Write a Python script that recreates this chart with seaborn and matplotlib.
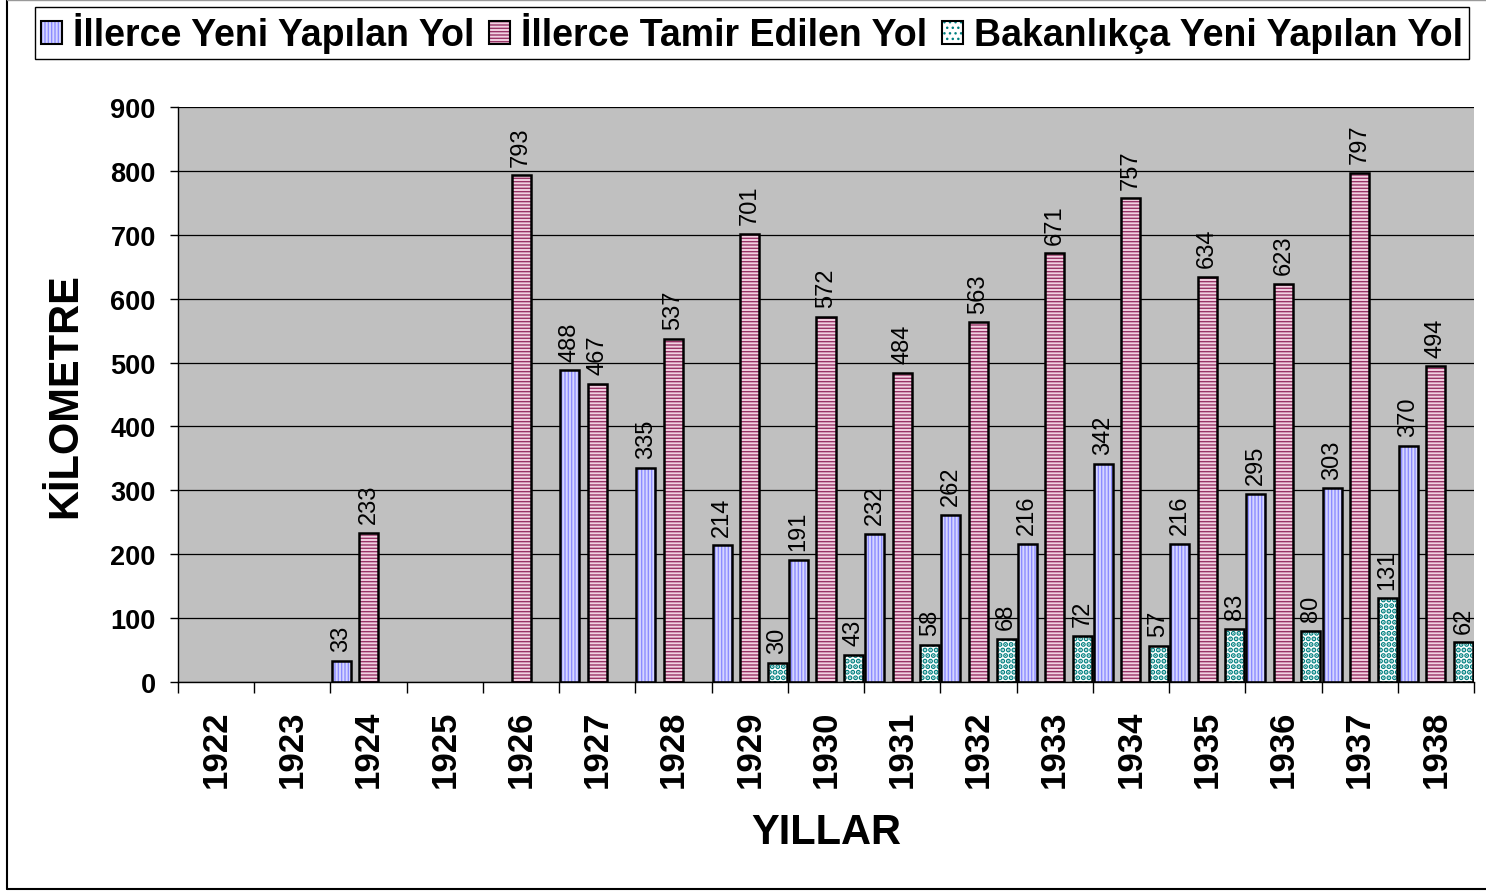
import numpy as np
import pandas as pd
import matplotlib
matplotlib.use('Agg')
import matplotlib.pyplot as plt
import seaborn as sns
from matplotlib.patches import Rectangle, Patch
from matplotlib.lines import Line2D

years = ['1922', '1923', '1924', '1925', '1926', '1927', '1928', '1929', '1930',
         '1931', '1932', '1933', '1934', '1935', '1936', '1937', '1938']
illerce_yeni = [0, 0, 33, 0, 0, 488, 335, 214, 191, 232, 262, 216, 342, 216, 295, 303, 370]
illerce_tamir = [0, 0, 233, 0, 793, 467, 537, 701, 572, 484, 563, 671, 757, 634, 623, 797, 494]
bakanlik_yeni = [0, 0, 0, 0, 0, 0, 0, 30, 43, 58, 68, 72, 57, 83, 80, 131, 62]
series_names = ['İllerce Yeni Yapılan Yol', 'İllerce Tamir Edilen Yol', 'Bakanlıkça Yeni Yapılan Yol']
y_ticks = [0, 100, 200, 300, 400, 500, 600, 700, 800, 900]

face_colors = ['#D6D6FF', '#F2D2E2', '#FFFFFF']
hatch_colors = ['#8C8CFF', '#993366', '#008080']
hatches = ['|||||', '-----', '...']
hatch_lws = [1.0, 1.0, 2.6]

sns.set_style('white')
plt.rcParams['font.family'] = ['Liberation Sans', 'DejaVu Sans']
plt.rcParams['hatch.linewidth'] = 1.0
for k in ['text.color', 'axes.labelcolor', 'xtick.color', 'ytick.color']:
    plt.rcParams[k] = 'black'

df = pd.DataFrame({
    'Yıl': years * 3,
    'Değer': illerce_yeni + illerce_tamir + bakanlik_yeni,
    'Seri': np.repeat(series_names, len(years)),
})

W, H = 1486, 895
fig = plt.figure(figsize=(W / 100, H / 100), dpi=100)
ax = fig.add_axes([178 / W, 1 - 683 / H, 1296 / W, 575 / H])

sns.barplot(data=df, x='Yıl', y='Değer', hue='Seri', hue_order=series_names, order=years,
            palette=face_colors, saturation=1, width=1.085, gap=0.31, errorbar=None,
            legend=False, ax=ax)


def style_hatch(p, h, hc, hlw):
    p.set_hatch(h)
    p.set_edgecolor(hc)
    p.set_linewidth(0)
    if hasattr(p, 'set_hatch_linewidth'):
        p.set_hatch_linewidth(hlw)


for cont, hc, h, hlw in zip(ax.containers, hatch_colors, hatches, hatch_lws):
    labels = []
    for bar in cont:
        hgt = bar.get_height()
        if not hgt:
            bar.set_visible(False)
            labels.append('')
            continue
        style_hatch(bar, h, hc, hlw)
        ax.add_patch(Rectangle(bar.get_xy(), bar.get_width(), hgt, fill=False,
                               edgecolor='black', lw=1.8, zorder=bar.get_zorder() + 0.1))
        labels.append(f'{hgt:.0f}')
    ax.bar_label(cont, labels=labels, rotation=90, padding=7, fontsize=17, color='black')

ax.set_facecolor('#C0C0C0')
ax.set_xlim(-0.5, len(years) - 0.5)
ax.set_ylim(0, 900)
ax.set_yticks(y_ticks)
ax.yaxis.grid(True, color='black', lw=0.9)
ax.xaxis.grid(False)
ax.set_axisbelow(True)
for s in ['top', 'right']:
    ax.spines[s].set_visible(False)
for s in ['left', 'bottom']:
    ax.spines[s].set_color('black')
    ax.spines[s].set_linewidth(1.0)

ax.tick_params(axis='y', direction='out', length=6, width=1, pad=10, labelsize=19.5, left=True, color='black')
ax.tick_params(axis='x', which='major', length=0, pad=20, labelsize=25, labelrotation=90)
ax.set_xticks(np.arange(-0.5, len(years), 1), minor=True)
ax.tick_params(axis='x', which='minor', length=8, width=1, direction='out', bottom=True, color='black')
for t in ax.get_xticklabels() + ax.get_yticklabels():
    t.set_fontweight('bold')

ax.set_ylabel('KİLOMETRE', fontsize=30, fontweight='bold', va='center')
ax.yaxis.set_label_coords(-0.0872, 0.5)
ax.set_xlabel('YILLAR', fontsize=30, fontweight='bold', va='center')
ax.xaxis.set_label_coords(0.5, -0.261)

handles = []
for fc, hc, h, hlw in zip(face_colors, hatch_colors, hatches, hatch_lws):
    p = Patch(facecolor=fc)
    style_hatch(p, h, hc, hlw)
    handles.append((p, Patch(fill=False, edgecolor='black', lw=1.5)))
leg = fig.legend(handles, series_names, loc='center', bbox_to_anchor=(752 / W, 1 - 34 / H),
                 ncol=3, prop={'weight': 'bold', 'size': 27}, handlelength=0.55, handleheight=0.55,
                 handletextpad=0.3, columnspacing=0.4, borderpad=0.15, frameon=True,
                 fancybox=False, edgecolor='black', framealpha=1)
leg.get_frame().set_linewidth(1)

fig.add_artist(Line2D([7 / W, 7 / W], [5 / H, 1], transform=fig.transFigure, color='black', lw=1.5))
fig.add_artist(Line2D([7 / W, 1], [5 / H, 5 / H], transform=fig.transFigure, color='black', lw=1.5))
fig.add_artist(Line2D([7 / W, 1], [1 - 1 / H, 1 - 1 / H], transform=fig.transFigure, color='#999999', lw=1))

fig.savefig('out.png', dpi=100)
